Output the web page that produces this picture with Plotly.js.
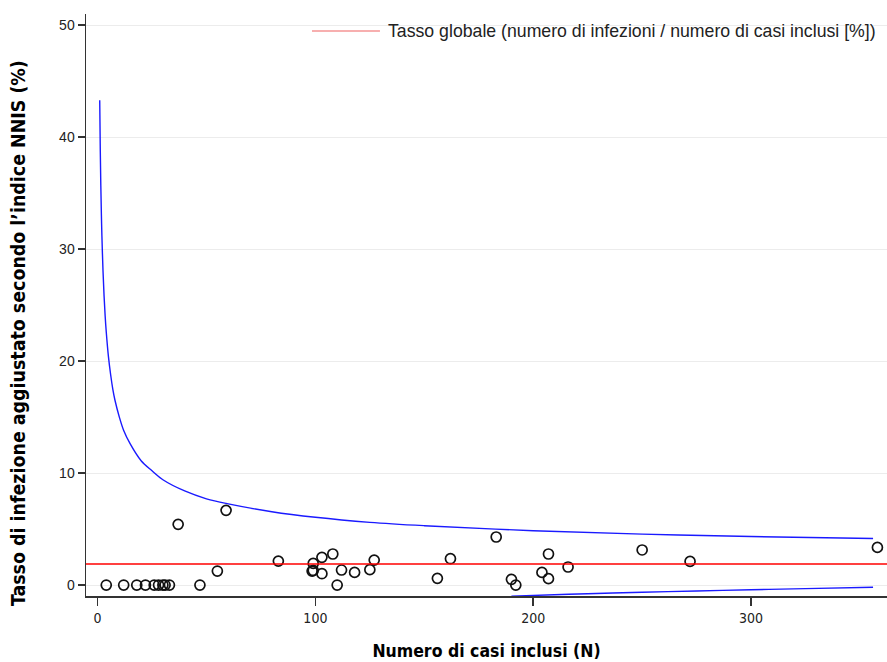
<!DOCTYPE html>
<html>
<head>
<meta charset="utf-8">
<script src="https://cdn.plot.ly/plotly-3.0.1.min.js"></script>
<style>html,body{margin:0;padding:0;background:#fff;}#chart{width:887px;height:662px;}</style>
</head>
<body>
<div id="chart"></div>
<script>
// Observed hospitals: number of included cases (N) and adjusted infection rate (%)
const casesN = [4, 12, 18, 22, 26, 28, 30, 31, 33, 37, 47, 55, 59, 83, 99, 98.5, 99, 103, 103, 108, 110, 112, 118, 125, 127,
                156, 162, 183, 190, 192, 204, 207, 207, 216, 250, 272, 358];
const rates  = [0, 0, 0, 0, 0, 0, 0, 0, 0, 5.42, 0, 1.25, 6.67, 2.14, 1.93, 1.25, 1.3, 2.47, 1.01, 2.77, 0, 1.34, 1.13, 1.37, 2.23,
                0.6, 2.35, 4.29, 0.51, 0, 1.13, 0.57, 2.77, 1.61, 3.13, 2.11, 3.36];

// Control limits
const upperN   = [1, 1.25, 1.5, 1.75, 2, 2.5, 3, 3.5, 4, 5, 6, 7, 8, 10, 12, 15, 20, 25, 30, 40, 50, 60, 80, 100, 125, 150, 200, 250, 300, 356];
const upperVal = [43.3, 38.9, 35.7, 33.2, 31.2, 28.1, 25.8, 24.0, 22.6, 20.4, 18.8, 17.5, 16.5, 15.0, 13.8, 12.6, 11.1, 10.2, 9.4, 8.4,
                  7.7, 7.25, 6.55, 6.05, 5.6, 5.3, 4.85, 4.55, 4.33, 4.15];
const lowerN   = [190, 200, 225, 250, 275, 300, 325, 356];
const lowerVal = [-1.0, -0.93, -0.78, -0.65, -0.53, -0.42, -0.32, -0.2];

const overallRate = 1.88;
const legendText = 'Tasso globale (numero di infezioni / numero di casi inclusi [%])';
const xTitle = 'Numero di casi inclusi (N)';
const yTitle = 'Tasso di infezione aggiustato secondo l\u2019indice NNIS (%)';

const narrow = '"Liberation Sans Narrow", "Arial Narrow", "DejaVu Sans Condensed", Arial, sans-serif';
const regular = '"Liberation Sans", Arial, sans-serif';

const traces = [
  {x: upperN, y: upperVal, mode: 'lines', line: {color: '#1a1aff', width: 1.4, shape: 'spline', smoothing: 1}, showlegend: false, hoverinfo: 'skip'},
  {x: lowerN, y: lowerVal, mode: 'lines', line: {color: '#1a1aff', width: 1.4, shape: 'spline', smoothing: 1}, showlegend: false, hoverinfo: 'skip'},
  {x: casesN, y: rates, mode: 'markers', showlegend: false,
   marker: {symbol: 'circle-open', size: 10, color: '#111', line: {width: 1.7, color: '#111'}}}
];

const layout = {
  width: 887, height: 662,
  margin: {l: 86, r: 0, t: 14, b: 66},
  paper_bgcolor: '#fff', plot_bgcolor: '#fff',
  showlegend: false,
  font: {family: regular, color: '#222'},
  xaxis: {
    range: [-5.3, 362.4], tickvals: [0, 100, 200, 300], ticktext: ['0', '100', '200', '300'],
    showgrid: false, zeroline: false, showline: true, linecolor: '#333', linewidth: 2,
    ticks: 'outside', ticklen: 8, tickwidth: 1.5, tickcolor: '#333',
    tickfont: {family: narrow, size: 14, color: '#222'},
    title: {text: xTitle, font: {family: narrow, size: 17.5, color: '#000', weight: 'bold'}, standoff: 20}
  },
  yaxis: {
    range: [-0.98, 51.0], tickvals: [0, 10, 20, 30, 40, 50],
    showgrid: true, gridcolor: '#ececec', gridwidth: 1, zeroline: false,
    showline: true, linecolor: '#333', linewidth: 1.5,
    ticks: 'outside', ticklen: 7, tickwidth: 1.5, tickcolor: '#333',
    tickfont: {family: regular, size: 14, color: '#222'}
  },
  shapes: [
    {type: 'line', xref: 'paper', yref: 'y', x0: 0, x1: 1, y0: overallRate, y1: overallRate,
     line: {color: '#ff0000', width: 1.5}, layer: 'above'},
    {type: 'rect', xref: 'paper', yref: 'paper', x0: 0.27, x1: 0.995, y0: 0.945, y1: 0.99,
     fillcolor: '#fff', line: {width: 0}, layer: 'below'},
    {type: 'line', xref: 'paper', yref: 'paper', x0: 0.2821, x1: 0.367, y0: 0.9708, y1: 0.9708,
     line: {color: '#f06060', width: 1.2}}
  ],
  annotations: [
    {xref: 'paper', yref: 'paper', x: 0.3745, y: 0.9708, xanchor: 'left', yanchor: 'middle', showarrow: false,
     text: legendText, font: {family: regular, size: 17.7, color: '#222'}},
    {xref: 'paper', yref: 'paper', x: -0.0836, y: 0.452, xanchor: 'center', yanchor: 'middle', showarrow: false,
     textangle: -90, text: yTitle, font: {family: narrow, size: 19.4, color: '#000', weight: 'bold'}}
  ]
};

Plotly.newPlot('chart', traces, layout, {displayModeBar: false, staticPlot: true});
</script>
</body>
</html>
